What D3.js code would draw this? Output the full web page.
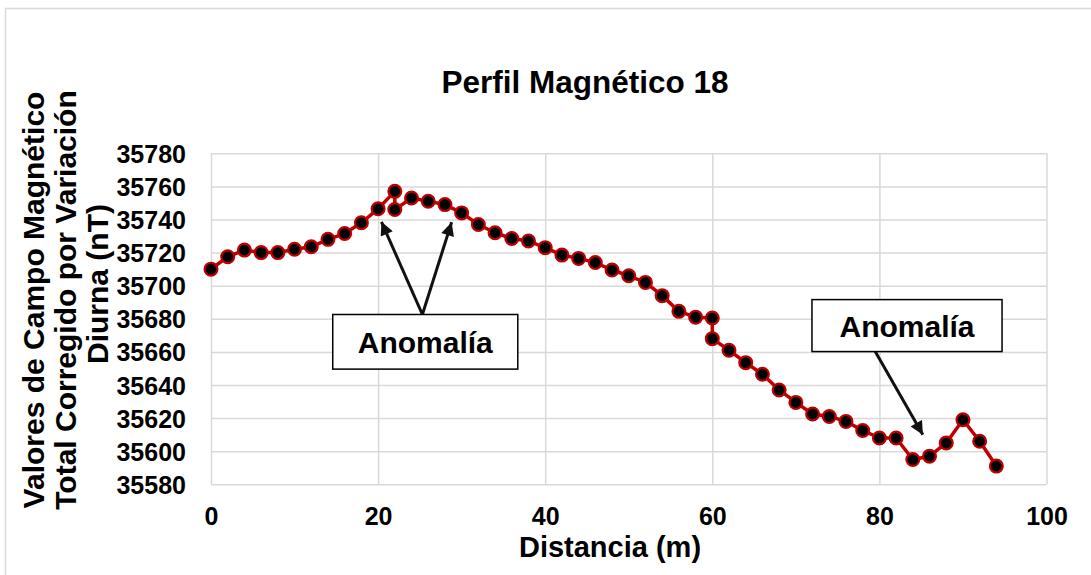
<!DOCTYPE html>
<html>
<head>
<meta charset="utf-8">
<script src="https://cdn.jsdelivr.net/npm/d3@7"></script>
<style>
  html, body { margin: 0; padding: 0; background: #fff; }
  svg { display: block; font-family: "Liberation Sans", Arial, sans-serif; font-weight: bold; }
</style>
</head>
<body>
<svg id="chart" width="1091" height="575"></svg>
<script>
// ---- data ----
const distances = [0,2,4,6,8,10,12,14,16,18,20,22,22,24,26,28,30,32,34,36,38,40,42,44,46,48,50,52,54,56,58,60,60,62,64,66,68,70,72,74,76,78,80,82,84,86,88,90,92,94];
const fieldValues = [35710,35717.5,35721.5,35720,35720,35722,35723.5,35728,35731.5,35738,35746.5,35757,35746,35753,35751,35749,35744,35737,35732,35728.5,35727,35723,35718.5,35716.5,35714,35709.5,35706,35702,35694,35684.5,35681,35680.5,35668,35661,35653.5,35646.5,35637,35629.5,35622.5,35621,35618,35612.5,35608,35608,35595,35597,35605,35619,35606,35591];
const xTicks = [0,20,40,60,80,100];
const yTicks = [35580,35600,35620,35640,35660,35680,35700,35720,35740,35760,35780];
const chartTitle = "Perfil Magnético 18";
const xTitle = "Distancia (m)";
const yTitleLines = ["Valores de Campo Magnético","Total Corregido por Variación","Diurna (nT)"];
const annotationLabel = "Anomalía";

// ---- layout ----
const svg = d3.select("#chart");
const plot = {left: 211, right: 1046.5, top: 153.3, bottom: 484.3};
const x = d3.scaleLinear().domain([0,100]).range([plot.left, plot.right]);
const y = d3.scaleLinear().domain([35580,35780]).range([plot.bottom, plot.top]);
const grid = "#d9d9d9";
const red = "#c00000";

// outer chart border
svg.append("rect").attr("x",5.5).attr("y",8.5).attr("width",1200).attr("height",700)
  .attr("fill","none").attr("stroke",grid).attr("stroke-width",1.5);

// gridlines
const gx = svg.append("g").attr("transform",`translate(0,${plot.bottom})`)
  .call(d3.axisBottom(x).tickValues(xTicks).tickSize(-(plot.bottom-plot.top)).tickFormat(""));
const gy = svg.append("g").attr("transform",`translate(${plot.left},0)`)
  .call(d3.axisLeft(y).tickValues(yTicks).tickSize(-(plot.right-plot.left)).tickFormat(""));
[gx, gy].forEach(g => {
  g.select(".domain").remove();
  g.selectAll(".tick line").attr("stroke",grid).attr("stroke-width",1.5);
});

// tick labels
const xl = svg.append("g").attr("transform",`translate(0,${plot.bottom})`)
  .call(d3.axisBottom(x).tickValues(xTicks).tickSize(0).tickPadding(0).tickFormat(d3.format("d")));
xl.select(".domain").remove();
xl.selectAll("text").attr("y",41).attr("dy",0).attr("fill","#000")
  .style("font-size","25px").style("font-weight","bold").style("font-family","'Liberation Sans', Arial, sans-serif");

const yl = svg.append("g").attr("transform",`translate(${plot.left},0)`)
  .call(d3.axisLeft(y).tickValues(yTicks).tickSize(0).tickPadding(0).tickFormat(d3.format("d")));
yl.select(".domain").remove();
yl.selectAll("text").attr("x",-25).attr("dy","0.36em").attr("fill","#000")
  .style("font-size","25px").style("font-weight","bold").style("font-family","'Liberation Sans', Arial, sans-serif");

// titles
svg.append("text").attr("x",585).attr("y",93).attr("text-anchor","middle")
  .style("font-size","31.5px").text(chartTitle);
svg.append("text").attr("x",610).attr("y",557).attr("text-anchor","middle")
  .style("font-size","29px").text(xTitle);
const yTitleCenters = [300, 300, 284];
yTitleLines.forEach((t,i) => {
  svg.append("text").attr("transform",`translate(${44 + i*32},${yTitleCenters[i]}) rotate(-90)`)
    .attr("text-anchor","middle").style("font-size","30px").text(t);
});

// line and markers
const pts = distances.map((d,i) => [d, fieldValues[i]]);
svg.append("path").datum(pts)
  .attr("d", d3.line().x(d => x(d[0])).y(d => y(d[1])))
  .attr("fill","none").attr("stroke",red).attr("stroke-width",3.5).attr("stroke-linejoin","round");
svg.append("g").selectAll("circle").data(pts).join("circle")
  .attr("cx", d => x(d[0])).attr("cy", d => y(d[1])).attr("r",6.4)
  .attr("fill","#000").attr("stroke",red).attr("stroke-width",2.2);

// annotations (data coordinates)
const defs = svg.append("defs");
defs.append("marker").attr("id","arrow").attr("viewBox","0 0 10 10").attr("refX",10).attr("refY",5)
  .attr("markerWidth",4.8).attr("markerHeight",4.4).attr("orient","auto-start-reverse")
  .attr("markerUnits","strokeWidth")
  .append("path").attr("d","M0,0 L10,5 L0,10 z").attr("fill","#111");

const boxes = [
  {x0:14.57, x1:36.72, y0:35682.6, y1:35649.6, arrows:[[25.3,35682.6,20.4,35738.6],[25.3,35682.6,28.8,35738.3]]},
  {x0:71.93, x1:94.68, y0:35691.6, y1:35660.2, arrows:[[79.5,35660.3,85.2,35610.0]]}
];
boxes.forEach(b => {
  b.arrows.forEach(a => {
    svg.append("line").attr("x1",x(a[0])).attr("y1",y(a[1])).attr("x2",x(a[2])).attr("y2",y(a[3]))
      .attr("stroke","#111").attr("stroke-width",3).attr("marker-end","url(#arrow)");
  });
  svg.append("rect").attr("x",x(b.x0)).attr("y",y(b.y0)).attr("width",x(b.x1)-x(b.x0)).attr("height",y(b.y1)-y(b.y0))
    .attr("fill","#fff").attr("stroke","#000").attr("stroke-width",1.5);
  svg.append("text").attr("x",(x(b.x0)+x(b.x1))/2).attr("y",(y(b.y0)+y(b.y1))/2+11)
    .attr("text-anchor","middle").style("font-size","30px").text(annotationLabel);
});
</script>
</body>
</html>
